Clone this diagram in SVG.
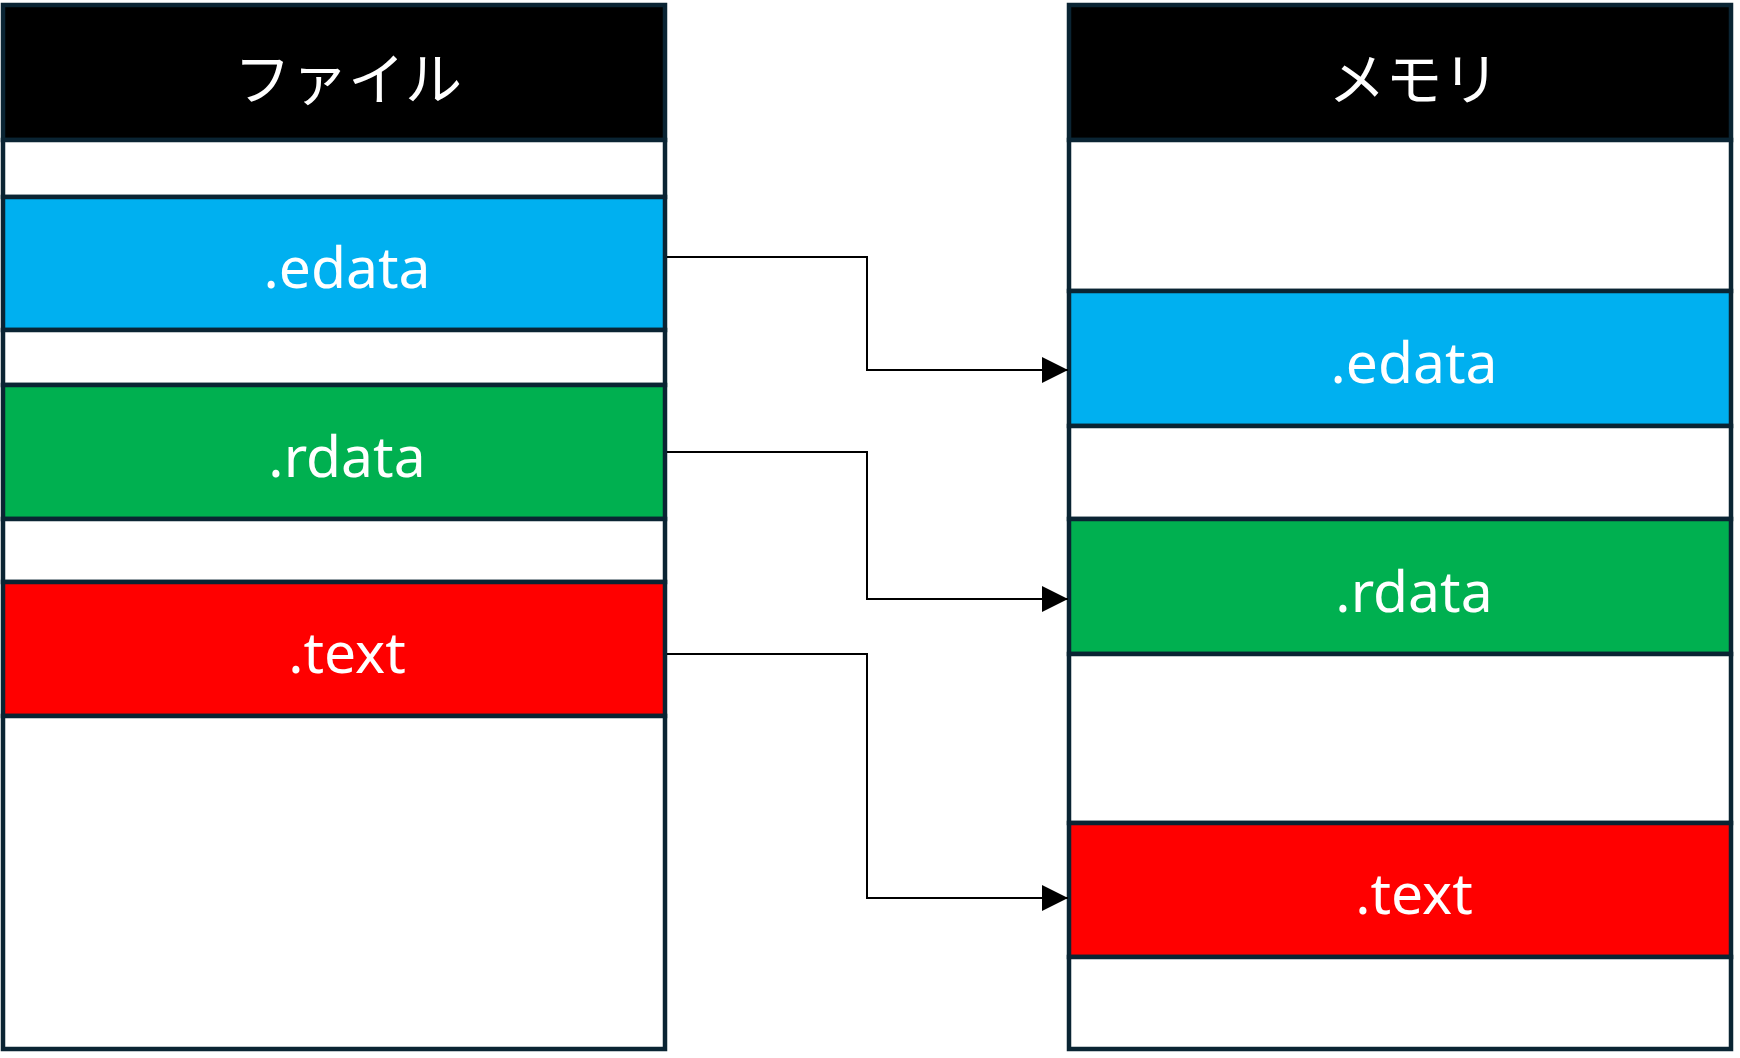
<svg xmlns="http://www.w3.org/2000/svg" width="1740" height="1058" viewBox="0 0 1740 1058">
  <style>
    .seg { stroke: #0a2433; stroke-width: 4.5; }
    .hdr { fill: #000000; }
    .blank { fill: #ffffff; }
    .edata { fill: #00b0f0; }
    .rdata { fill: #00b050; }
    .text { fill: #ff0000; }
    .lbl { font-family: "Noto Sans", "Open Sans", "Noto Sans CJK JP", sans-serif; font-size: 57px; fill: #ffffff; text-anchor: middle; }
    .conn { fill: none; stroke: #000000; stroke-width: 2; }
  </style>
  <defs>
    <marker id="arrow" markerUnits="userSpaceOnUse" markerWidth="26" markerHeight="26" refX="26" refY="13" orient="auto">
      <path d="M0,0 L26,13 L0,26 Z" fill="#000000"/>
    </marker>
  </defs>
  <rect width="1740" height="1058" fill="#ffffff"/>

  <g id="file">
    <g id="file-header">
      <rect class="seg hdr" x="3" y="5" width="662" height="135"/>
      <text class="lbl" x="348" y="100">ファイル</text>
    </g>
    <rect id="file-blank1" class="seg blank" x="3" y="140" width="662" height="57"/>
    <g id="file-edata">
      <rect class="seg edata" x="3" y="197" width="662" height="133"/>
      <text class="lbl" x="347" y="288">.edata</text>
    </g>
    <rect id="file-blank2" class="seg blank" x="3" y="330" width="662" height="55"/>
    <g id="file-rdata">
      <rect class="seg rdata" x="3" y="385" width="662" height="134"/>
      <text class="lbl" x="347" y="477">.rdata</text>
    </g>
    <rect id="file-blank3" class="seg blank" x="3" y="519" width="662" height="63"/>
    <g id="file-text">
      <rect class="seg text" x="3" y="582" width="662" height="134"/>
      <text class="lbl" x="347" y="673">.text</text>
    </g>
    <rect id="file-blank4" class="seg blank" x="3" y="716" width="662" height="333"/>
  </g>

  <g id="memory">
    <g id="memory-header">
      <rect class="seg hdr" x="1069" y="5" width="662" height="135"/>
      <text class="lbl" x="1414" y="100">メモリ</text>
    </g>
    <rect id="memory-blank1" class="seg blank" x="1069" y="140" width="662" height="151"/>
    <g id="memory-edata">
      <rect class="seg edata" x="1069" y="291" width="662" height="135"/>
      <text class="lbl" x="1414" y="383">.edata</text>
    </g>
    <rect id="memory-blank2" class="seg blank" x="1069" y="426" width="662" height="93"/>
    <g id="memory-rdata">
      <rect class="seg rdata" x="1069" y="519" width="662" height="135"/>
      <text class="lbl" x="1414" y="612">.rdata</text>
    </g>
    <rect id="memory-blank3" class="seg blank" x="1069" y="654" width="662" height="169"/>
    <g id="memory-text">
      <rect class="seg text" x="1069" y="823" width="662" height="134"/>
      <text class="lbl" x="1414" y="914">.text</text>
    </g>
    <rect id="memory-blank4" class="seg blank" x="1069" y="957" width="662" height="92"/>
  </g>

  <g id="connectors">
    <polyline class="conn" points="667,257 867,257 867,370 1068,370" marker-end="url(#arrow)"/>
    <polyline class="conn" points="667,452 867,452 867,599 1068,599" marker-end="url(#arrow)"/>
    <polyline class="conn" points="667,654 867,654 867,898 1068,898" marker-end="url(#arrow)"/>
  </g>
</svg>
